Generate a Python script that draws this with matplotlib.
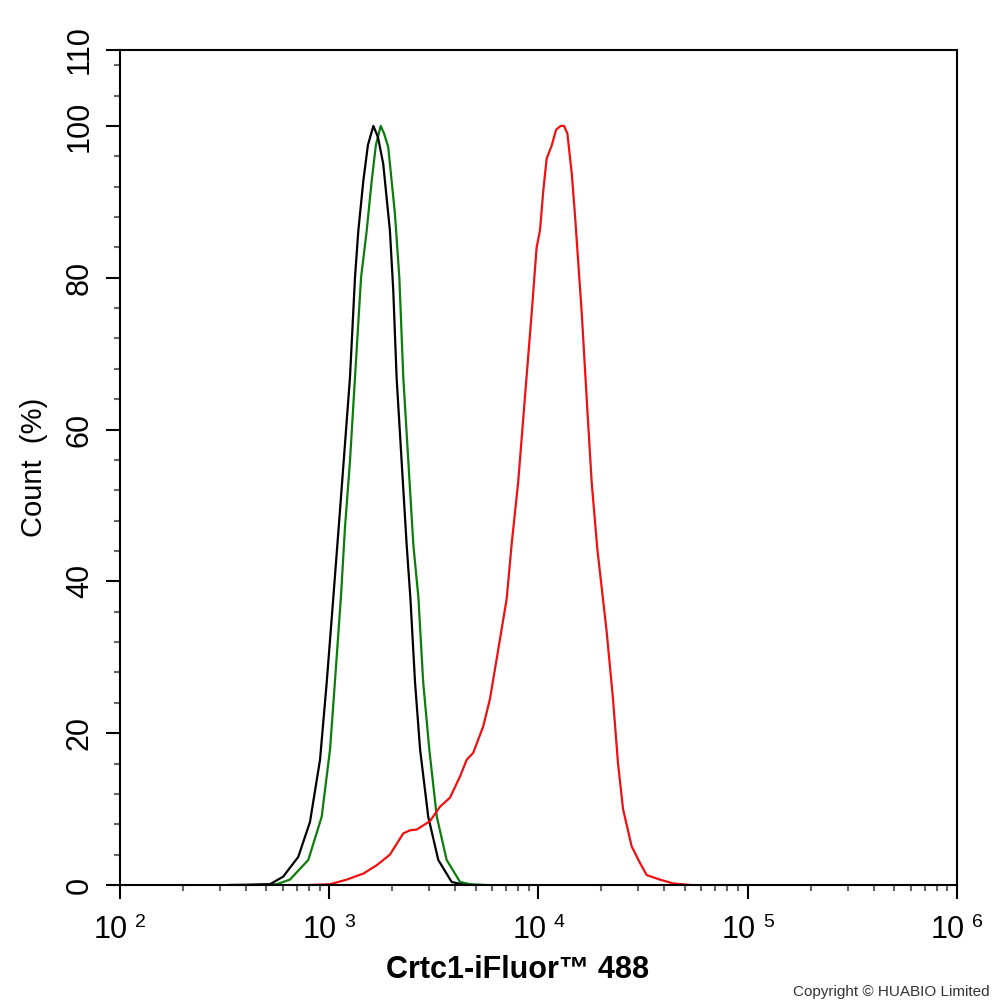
"""Flow cytometry overlay: Crtc1-iFluor 488 histogram."""
import numpy as np
import matplotlib
matplotlib.use("Agg")
import matplotlib.pyplot as plt
from matplotlib.ticker import MultipleLocator, LogLocator, NullFormatter
from matplotlib.transforms import offset_copy

plt.rcParams["font.family"] = ["Liberation Sans", "DejaVu Sans"]

# log10 of fluorescence intensity, and % of max count
black_log = [2.526, 2.645, 2.717, 2.780, 2.852, 2.908, 2.956, 2.988, 3.019, 3.051,
             3.075, 3.099, 3.123, 3.139, 3.163, 3.185, 3.211, 3.233, 3.258, 3.290,
             3.306, 3.322, 3.346, 3.370, 3.388, 3.410, 3.434, 3.473, 3.521, 3.585, 3.649]
black_cnt = [0.0, 0.05, 0.1, 1.1, 3.7, 8.3, 16.5, 26.7, 37.7, 49.2,
             58.0, 66.8, 80.0, 86.2, 92.8, 97.5, 100.0, 98.5, 95.0, 86.2,
             78.3, 66.8, 55.8, 44.8, 37.7, 26.7, 17.9, 9.0, 3.3, 0.4, 0.0]

green_log = [2.621, 2.749, 2.812, 2.900, 2.964, 3.004, 3.027, 3.056, 3.075, 3.099,
             3.123, 3.152, 3.179, 3.203, 3.223, 3.246, 3.262, 3.282, 3.314, 3.335,
             3.354, 3.378, 3.402, 3.426, 3.449, 3.478, 3.514, 3.561, 3.625, 3.673, 3.744]
green_cnt = [0.0, 0.1, 0.7, 3.3, 9.0, 17.9, 26.7, 38.0, 47.0, 55.8,
             66.8, 80.0, 86.2, 92.8, 97.5, 100.0, 99.0, 97.2, 88.4, 80.0,
             66.8, 55.8, 44.8, 37.9, 26.7, 17.9, 9.0, 3.3, 0.4, 0.1, 0.0]

red_log = [2.908, 3.004, 3.083, 3.163, 3.227, 3.290, 3.354, 3.386, 3.418, 3.481,
           3.529, 3.577, 3.625, 3.657, 3.688, 3.736, 3.768, 3.816, 3.848, 3.872,
           3.903, 3.935, 3.967, 3.991, 4.007, 4.023, 4.039, 4.063, 4.084, 4.106,
           4.122, 4.138, 4.159, 4.174, 4.185, 4.207, 4.230, 4.254, 4.281, 4.326,
           4.356, 4.380, 4.404, 4.445, 4.485, 4.517, 4.581, 4.644, 4.724]
red_cnt = [0.0, 0.1, 0.7, 1.5, 2.6, 4.0, 6.8, 7.2, 7.3, 8.4,
           10.3, 11.5, 14.3, 16.5, 17.4, 20.9, 24.5, 32.4, 37.7, 45.0,
           53.1, 64.2, 75.2, 84.0, 86.2, 91.5, 95.7, 97.4, 99.5, 100.0,
           100.0, 99.0, 93.7, 88.4, 84.0, 75.2, 64.2, 53.1, 44.3, 33.3,
           24.5, 16.0, 10.0, 5.1, 2.9, 1.3, 0.7, 0.2, 0.0]

decades = [2, 3, 4, 5, 6]
yticks = [0, 20, 40, 60, 80, 100, 110]

fig = plt.figure(figsize=(9.94, 10.02), dpi=100)
ax = fig.add_axes([0.1207, 0.1168, 0.8421, 0.8333])

ax.plot(10 ** np.array(green_log), green_cnt, color="#0b7d0b", lw=1.6)
ax.plot(10 ** np.array(black_log), black_cnt, color="black", lw=1.6)
ax.plot(10 ** np.array(red_log), red_cnt, color="#f01010", lw=1.6)

ax.set_xscale("log")
ax.set_xlim(10 ** decades[0], 10 ** decades[-1])
ax.set_ylim(0, 110)

for s in ax.spines.values():
    s.set_linewidth(1.5)

# y axis
ax.set_yticks(yticks)
ax.set_yticklabels([str(v) for v in yticks], rotation=90, va="center", fontsize=22)
ax.yaxis.set_minor_locator(MultipleLocator(4))
ax.tick_params(axis="y", which="major", length=10, width=1.5, pad=8)
ax.tick_params(axis="y", which="minor", length=4, width=1.5, color="#666666")

# x axis: labels drawn by hand as "10" + raised exponent
ax.set_xticks([10 ** d for d in decades])
ax.xaxis.set_minor_locator(LogLocator(base=10, subs=np.arange(2, 10)))
ax.xaxis.set_minor_formatter(NullFormatter())
ax.set_xticklabels([])
ax.tick_params(axis="x", which="major", length=10, width=1.5)
ax.tick_params(axis="x", which="minor", length=4, width=1.5, color="#666666")

xtr = ax.get_xaxis_transform()
for d in decades:
    ax.text(10 ** d, 0, "10", fontsize=22, ha="right", va="baseline",
            transform=offset_copy(xtr, fig=fig, x=8, y=-53, units="dots"))
    ax.text(10 ** d, 0, str(d), fontsize=14, ha="left", va="baseline",
            transform=offset_copy(xtr, fig=fig, x=15, y=-42, units="dots"))

ax.set_ylabel("Count  (%)", fontsize=21, labelpad=12)
fig.text(0.521, 0.024, "Crtc1-iFluor™ 488", fontsize=22, fontweight="bold",
         ha="center", va="baseline")
fig.text(0.996, 0.006, "Copyright © HUABIO Limited", fontsize=11, color="#333333",
         ha="right", va="baseline")

fig.savefig("out.png", dpi=100)
